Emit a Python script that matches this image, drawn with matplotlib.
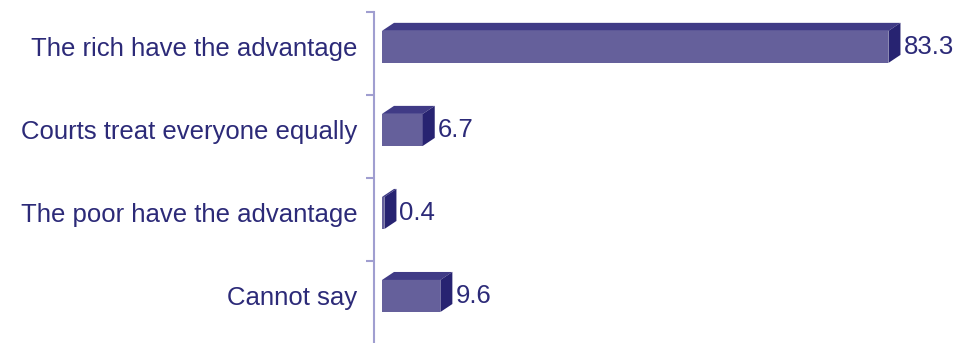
import matplotlib.pyplot as plt
from matplotlib.patches import Polygon

categories = ["The rich have the advantage", "Courts treat everyone equally",
              "The poor have the advantage", "Cannot say"]
values = [83.3, 6.7, 0.4, 9.6]

FRONT = "#65609b"
TOP = "#403b86"
SIDE = "#272371"
TEXT = "#2c2a78"
AXIS = "#a09ed0"

plt.rcParams['font.family'] = ['Liberation Sans', 'DejaVu Sans']

fig = plt.figure(figsize=(9.61, 3.43), dpi=100)
# axes from the spine (x=374px) to the right edge, top tick (12px) to bottom
ax = fig.add_axes([374 / 961, 0, 1 - 374 / 961, 1 - 12 / 343])

px_per_unit = 6.08
x0 = -8 / px_per_unit
ax.set_xlim(x0, x0 + (961 - 374) / px_per_unit)
ax.set_ylim(3.566, -0.42)

h = 0.386
dx = 12 / px_per_unit
dy = 8 / 83

for i, v in enumerate(values):
    ytop = i - h / 2
    ybot = i + h / 2
    ax.add_patch(Polygon([(0, ytop), (v, ytop), (v, ybot), (0, ybot)],
                         closed=True, facecolor=FRONT, edgecolor='none'))
    ax.add_patch(Polygon([(0, ytop), (dx, ytop - dy), (v + dx, ytop - dy), (v, ytop)],
                         closed=True, facecolor=TOP, edgecolor='none'))
    ax.add_patch(Polygon([(v, ytop), (v + dx, ytop - dy), (v + dx, ybot - dy), (v, ybot)],
                         closed=True, facecolor=SIDE, edgecolor='none'))
    ax.text(v + dx + 3 / px_per_unit, i, f"{v}", ha='left', va='center',
            fontsize=18.5, color=TEXT)

for s in ['top', 'right', 'bottom']:
    ax.spines[s].set_visible(False)
ax.spines['left'].set_color(AXIS)
ax.spines['left'].set_linewidth(1.5)
ax.spines['left'].set_position(('data', x0))

ax.set_xticks([])
ax.set_yticks([i - 0.42 for i in range(len(categories))])
ax.set_yticklabels([])
ax.tick_params(axis='y', which='major', length=6, width=1.5, color=AXIS)
ax.set_yticks(range(len(categories)), minor=True)
ax.set_yticklabels(categories, minor=True, fontsize=18.5, color=TEXT)
ax.tick_params(axis='y', which='minor', length=0, pad=12)

fig.savefig("out.png", dpi=100)
